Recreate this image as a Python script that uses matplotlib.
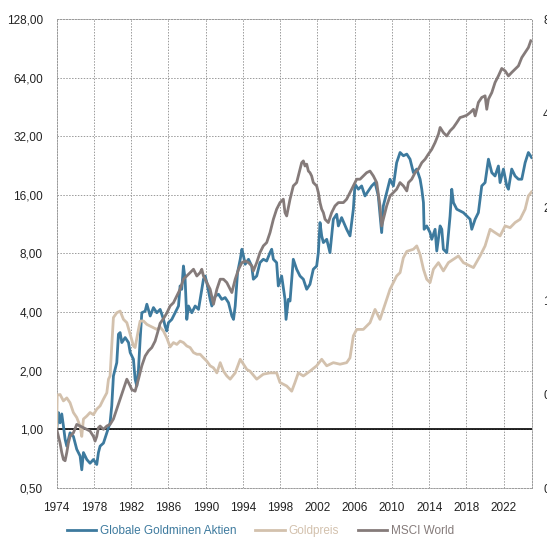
import matplotlib
matplotlib.use("Agg")
import matplotlib.pyplot as plt
from matplotlib.ticker import FixedLocator, FixedFormatter, NullLocator

plt.rcParams['font.family'] = ['Liberation Sans', 'DejaVu Sans']

# Globale Goldminen Aktien (indexed, 1974 = 1)
miners_years = [1974.0, 1974.18, 1974.36, 1974.54, 1974.72, 1974.9, 1975.08, 1975.43, 1975.79, 1976.15,
                1976.51, 1976.69, 1976.87, 1977.23, 1977.58, 1977.94, 1978.3, 1978.48, 1978.66, 1979.02,
                1979.38, 1979.73, 1979.91, 1980.09, 1980.45, 1980.63, 1980.81, 1980.99, 1981.35, 1981.71,
                1981.89, 1982.24, 1982.42, 1982.6, 1982.78, 1982.96, 1983.14, 1983.5, 1983.68, 1984.04,
                1984.39, 1984.75, 1985.11, 1985.47, 1985.64, 1985.82, 1986.0, 1986.36, 1986.72, 1987.08,
                1987.25, 1987.43, 1987.61, 1987.79, 1987.97, 1988.15, 1988.51, 1988.87, 1989.23, 1989.58,
                1989.76, 1989.94, 1990.12, 1990.48, 1990.66, 1991.02, 1991.38, 1991.73, 1992.09, 1992.45,
                1992.81, 1992.99, 1993.17, 1993.42, 1993.71, 1993.89, 1994.06, 1994.24, 1994.6, 1994.94,
                1995.12, 1995.48, 1995.83, 1996.19, 1996.55, 1996.91, 1997.09, 1997.27, 1997.62, 1997.8,
                1998.16, 1998.52, 1998.63, 1998.88, 1999.06, 1999.41, 1999.77, 2000.13, 2000.49, 2000.85,
                2001.2, 2001.56, 2001.92, 2002.1, 2002.28, 2002.46, 2002.64, 2003.0, 2003.35, 2003.71,
                2004.07, 2004.25, 2004.6, 2005.14, 2005.5, 2005.86, 2006.04, 2006.4, 2006.75, 2007.11,
                2007.47, 2007.83, 2008.19, 2008.54, 2008.9, 2009.08, 2009.44, 2009.8, 2010.16, 2010.51,
                2010.88, 2011.24, 2011.6, 2011.95, 2012.31, 2012.67, 2013.03, 2013.21, 2013.39, 2013.46,
                2013.74, 2014.1, 2014.28, 2014.64, 2014.82, 2015.18, 2015.36, 2015.53, 2015.89, 2016.25,
                2016.43, 2016.61, 2016.97, 2017.32, 2017.68, 2018.04, 2018.4, 2018.58, 2018.94, 2019.29,
                2019.65, 2020.01, 2020.37, 2020.73, 2021.08, 2021.44, 2021.62, 2021.98, 2022.34, 2022.52,
                2022.87, 2023.23, 2023.59, 2023.95, 2024.31, 2024.66, 2025.0]
miners_values = [1.0, 1.22, 1.08, 1.2, 1.04, 0.89, 0.82, 0.96, 0.92, 0.79,
                 0.73, 0.62, 0.76, 0.70, 0.67, 0.70, 0.66, 0.76, 0.82, 0.85,
                 0.96, 1.08, 1.32, 1.88, 2.2, 3.08, 3.14, 2.79, 2.96, 2.79,
                 2.48, 2.29, 1.81, 1.67, 2.03, 2.9, 3.97, 4.05, 4.39, 3.82,
                 4.22, 3.97, 4.13, 3.67, 3.39, 3.2, 3.53, 3.67, 3.97, 4.3,
                 5.45, 5.24, 6.9, 5.9, 3.67, 4.3, 3.97, 4.3, 4.13, 5.24,
                 5.9, 6.13, 5.67, 4.65, 4.3, 4.84, 4.94, 4.65, 4.75, 4.47,
                 3.82, 3.67, 4.3, 6.38, 7.47, 8.41, 7.77, 7.04, 7.47, 6.9,
                 5.9, 6.13, 7.18, 7.47, 7.32, 8.08, 8.41, 7.47, 7.18, 5.45,
                 6.13, 4.65, 3.67, 4.65, 4.56, 7.47, 6.64, 6.13, 5.9, 5.24,
                 5.56, 6.64, 6.9, 8.08, 11.53, 9.85, 9.1, 9.46, 8.08, 11.99,
                 12.72, 11.08, 12.23, 10.65, 9.85, 13.5, 18.14, 17.1, 17.78, 15.8,
                 16.76, 17.78, 18.5, 15.8, 10.24, 14.04, 16.44, 19.25, 17.78, 23.4,
                 26.4, 25.4, 25.9, 24.4, 20.8, 21.7, 19.25, 17.1, 14.6, 10.65,
                 11.08, 10.24, 9.46, 10.65, 8.24, 11.08, 10.65, 8.41, 8.08, 12.47,
                 17.1, 14.6, 13.5, 13.23, 12.97, 12.47, 11.99, 10.65, 11.99, 12.97,
                 17.78, 18.5, 24.4, 20.8, 20.0, 22.5, 18.5, 21.7, 17.78, 17.1,
                 21.7, 20.0, 19.25, 19.25, 23.4, 26.4, 24.9]

# Goldpreis (indexed, 1974 = 1)
gold_years = [1974.0, 1974.05, 1974.36, 1974.72, 1975.08, 1975.43, 1975.79, 1976.15, 1976.51, 1976.69,
              1976.87, 1977.23, 1977.58, 1977.94, 1978.3, 1978.66, 1979.02, 1979.38, 1979.56, 1979.73,
              1979.91, 1980.09, 1980.45, 1980.81, 1981.17, 1981.53, 1981.89, 1982.24, 1982.42, 1982.78,
              1982.96, 1983.32, 1983.68, 1984.04, 1984.75, 1985.1, 1985.46, 1985.82, 1986.18, 1986.54,
              1986.9, 1987.25, 1987.61, 1987.97, 1988.33, 1988.69, 1989.05, 1989.4, 1989.76, 1990.12,
              1990.48, 1990.84, 1991.2, 1991.56, 1991.91, 1992.27, 1992.63, 1993.17, 1993.71, 1994.06,
              1994.42, 1994.76, 1995.48, 1996.19, 1996.91, 1997.62, 1997.98, 1998.7, 1999.24, 1999.59,
              1999.95, 2000.49, 2001.2, 2001.92, 2002.46, 2003.0, 2003.71, 2004.43, 2005.14, 2005.5,
              2005.86, 2006.22, 2006.93, 2007.65, 2008.19, 2008.72, 2009.44, 2009.8, 2010.51, 2010.88,
              2011.23, 2011.6, 2012.31, 2012.67, 2013.03, 2013.39, 2013.74, 2014.1, 2014.46, 2015.0,
              2015.53, 2016.07, 2016.61, 2017.15, 2017.68, 2018.4, 2018.76, 2019.47, 2020.01, 2020.55,
              2021.08, 2021.62, 2022.16, 2022.7, 2023.23, 2023.77, 2024.31, 2024.66, 2025.0]
gold_values = [1.0, 1.5, 1.51, 1.40, 1.45, 1.37, 1.22, 1.15, 1.04, 0.92,
               1.13, 1.17, 1.22, 1.19, 1.27, 1.32, 1.43, 1.54, 1.81, 1.88,
               2.68, 3.75, 3.97, 4.05, 3.67, 3.53, 3.08, 2.68, 2.63, 3.26,
               3.6, 3.6, 3.46, 3.39, 3.26, 3.35, 3.2, 2.95, 2.65, 2.79,
               2.73, 2.84, 2.79, 2.68, 2.63, 2.48, 2.43, 2.43, 2.33, 2.24,
               2.12, 2.07, 1.95, 2.2, 1.99, 1.88, 1.81, 1.95, 2.29, 2.16,
               2.03, 1.99, 1.81, 1.92, 1.95, 1.95, 1.74, 1.67, 1.57, 1.74,
               1.95, 1.88, 1.99, 2.12, 2.29, 2.12, 2.2, 2.16, 2.2, 2.33,
               3.02, 3.26, 3.26, 3.53, 4.13, 3.67, 4.65, 5.24, 6.13, 6.38,
               7.6, 8.2, 8.41, 8.75, 7.9, 6.64, 5.9, 5.67, 6.64, 7.18,
               6.51, 7.18, 7.47, 7.77, 7.18, 6.9, 6.77, 7.77, 8.75, 10.65,
               10.24, 9.85, 11.08, 10.86, 11.53, 11.99, 13.5, 15.8, 16.56]

# MSCI World (indexed, 1974 = 1)
msci_years = [1974.0, 1974.18, 1974.36, 1974.54, 1974.72, 1974.9, 1975.08, 1975.25, 1975.43, 1975.79,
              1976.15, 1976.51, 1976.87, 1977.23, 1977.58, 1977.94, 1978.12, 1978.3, 1978.48, 1978.66,
              1979.02, 1979.38, 1979.73, 1980.09, 1980.45, 1980.81, 1981.17, 1981.53, 1981.89, 1982.06,
              1982.42, 1982.78, 1983.14, 1983.5, 1983.86, 1984.21, 1984.57, 1984.93, 1985.1, 1985.46,
              1985.82, 1986.18, 1986.54, 1986.9, 1987.25, 1987.61, 1987.97, 1988.33, 1988.69, 1989.05,
              1989.4, 1989.58, 1989.76, 1990.12, 1990.48, 1990.84, 1991.2, 1991.56, 1991.91, 1992.27,
              1992.63, 1992.81, 1993.17, 1993.53, 1993.89, 1994.24, 1994.6, 1994.96, 1995.12, 1995.48,
              1995.83, 1996.19, 1996.55, 1996.91, 1997.27, 1997.62, 1997.98, 1998.34, 1998.52, 1998.7,
              1999.06, 1999.41, 1999.77, 2000.13, 2000.31, 2000.49, 2000.67, 2000.85, 2001.03, 2001.2,
              2001.38, 2001.56, 2001.92, 2002.1, 2002.28, 2002.46, 2002.64, 2002.82, 2003.17, 2003.53,
              2003.89, 2004.25, 2004.79, 2005.14, 2005.5, 2005.86, 2006.22, 2006.58, 2006.93, 2007.29,
              2007.65, 2008.01, 2008.37, 2008.72, 2008.9, 2009.08, 2009.44, 2009.8, 2010.16, 2010.51,
              2010.87, 2011.24, 2011.6, 2011.78, 2012.13, 2012.49, 2012.85, 2013.21, 2013.57, 2013.92,
              2014.28, 2014.64, 2015.0, 2015.18, 2015.53, 2015.89, 2016.25, 2016.61, 2016.97, 2017.32,
              2017.68, 2018.04, 2018.4, 2018.76, 2018.94, 2019.29, 2019.65, 2020.01, 2020.19, 2020.37,
              2020.73, 2021.08, 2021.44, 2021.8, 2022.16, 2022.52, 2022.87, 2023.23, 2023.59, 2023.95,
              2024.31, 2024.66, 2024.92]
msci_values = [1.0, 0.92, 0.85, 0.76, 0.70, 0.69, 0.76, 0.85, 0.92, 0.96,
               1.06, 1.04, 1.02, 1.0, 0.98, 0.92, 0.87, 0.92, 1.02, 1.04,
               1.0, 1.04, 1.06, 1.13, 1.27, 1.43, 1.6, 1.81, 1.67, 1.6,
               1.57, 1.81, 2.12, 2.38, 2.53, 2.63, 2.84, 3.26, 3.5, 3.7,
               3.95, 4.3, 4.47, 4.84, 5.24, 5.9, 6.13, 6.38, 6.64, 6.13,
               6.38, 6.64, 6.13, 5.67, 5.24, 4.39, 5.24, 5.9, 5.9, 5.67,
               5.24, 5.04, 5.9, 6.64, 7.18, 7.32, 7.18, 6.9, 6.51, 7.18,
               8.08, 8.75, 9.1, 10.24, 11.99, 13.5, 14.6, 15.2, 12.97, 12.47,
               15.2, 17.78, 18.5, 21.7, 23.4, 23.9, 22.5, 23.0, 21.2, 20.8,
               20.0, 18.5, 17.78, 16.44, 14.6, 13.5, 12.97, 11.99, 11.53, 12.97,
               14.04, 14.6, 14.6, 15.2, 16.44, 17.78, 19.25, 19.25, 20.0, 20.8,
               21.2, 20.0, 18.5, 14.04, 11.08, 11.99, 14.04, 15.8, 16.44, 17.1,
               18.5, 17.78, 16.76, 18.5, 19.25, 20.8, 21.7, 23.4, 24.4, 25.9,
               27.4, 29.7, 32.8, 35.5, 33.4, 32.1, 34.1, 35.5, 37.6, 39.9,
               40.4, 41.0, 42.3, 44.0, 40.7, 47.7, 50.6, 51.6, 44.0, 49.6,
               53.6, 60.4, 65.3, 71.3, 69.3, 65.3, 68.0, 70.7, 73.5, 81.1,
               86.1, 91.3, 98.9]

year_ticks = list(range(1974, 2023, 4))
left_ticks = [0.5, 1, 2, 4, 8, 16, 32, 64, 128]
left_labels = ["0,50", "1,00", "2,00", "4,00", "8,00", "16,00", "32,00", "64,00", "128,00"]
right_ticks = [0.25, 0.5, 1, 2, 4, 8]
right_labels = ["0,25", "0,50", "1,00", "2,00", "4,00", "8,00"]

blue = "#3d7a9e"
beige = "#d3c1ad"
grey = "#857b7a"
grid_col = "#9a9a9a"

fig = plt.figure(figsize=(5.47, 5.47), dpi=100)
ax = fig.add_axes([0.1037, 0.1079, 0.8689, 0.8574])

ax.set_yscale("log")
ax.set_ylim(0.5, 128)
ax.set_xlim(1974, 2025.05)

ax.axhline(1.0, color="black", lw=1.2, zorder=2)
ax.plot(miners_years, miners_values, color=blue, lw=2.0, label="Globale Goldminen Aktien", zorder=3)
ax.plot(gold_years, gold_values, color=beige, lw=2.0, label="Goldpreis", zorder=3)
ax.plot(msci_years, msci_values, color=grey, lw=2.0, label="MSCI World", zorder=4)

ax.yaxis.set_major_locator(FixedLocator(left_ticks))
ax.yaxis.set_major_formatter(FixedFormatter(left_labels))
ax.yaxis.set_minor_locator(NullLocator())
ax.set_xticks(year_ticks)
ax.set_xticklabels([str(y) for y in year_ticks])

ax.tick_params(axis="both", length=0, labelsize=8.5, colors="#222222")
ax.tick_params(axis="y", pad=10)
ax.tick_params(axis="x", pad=10)
ax.grid(True, which="major", color=grid_col, linestyle=(0, (1.5, 1.5)), lw=0.7)
for s in ax.spines.values():
    s.set_color(grid_col)
    s.set_linestyle((0, (1.5, 1.5)))
    s.set_linewidth(0.7)

ax2 = ax.twinx()
ax2.set_yscale("log")
ax2.set_ylim(0.25, 8)
ax2.yaxis.set_major_locator(FixedLocator(right_ticks))
ax2.yaxis.set_major_formatter(FixedFormatter(right_labels))
ax2.yaxis.set_minor_locator(NullLocator())
ax2.tick_params(axis="y", length=0, labelsize=8.5, colors="#222222", pad=8)
for s in ax2.spines.values():
    s.set_visible(False)

leg = fig.legend(loc="center", bbox_to_anchor=(0.476, 0.029), ncol=3, frameon=False,
                 fontsize=8.5, handlelength=2.5, handletextpad=0.3, columnspacing=1.6)
for txt, c in zip(leg.get_texts(), [blue, beige, grey]):
    txt.set_color(c)

fig.savefig("out.png", dpi=100)
